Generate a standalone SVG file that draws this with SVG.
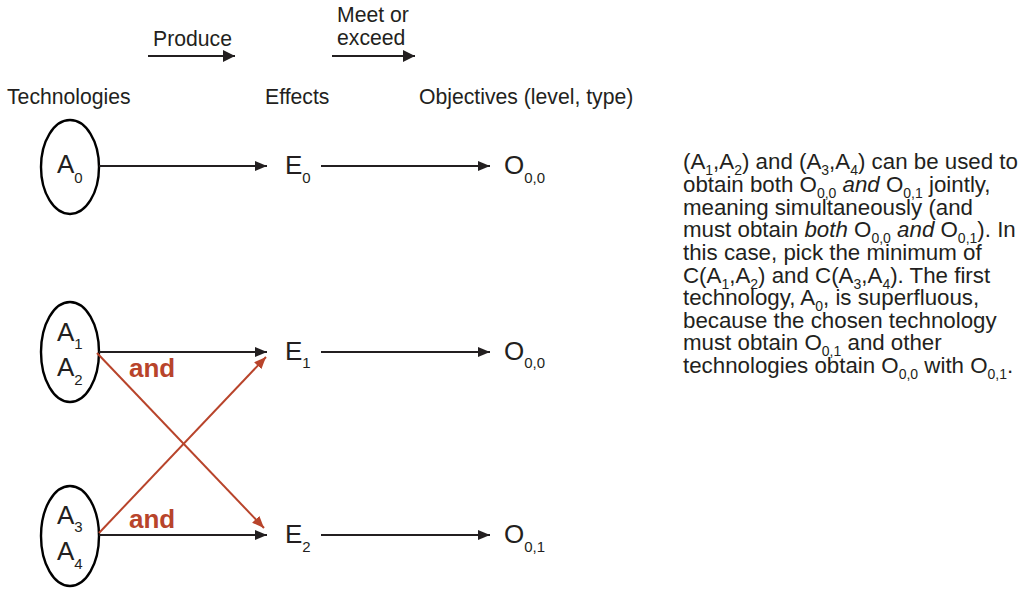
<svg xmlns="http://www.w3.org/2000/svg" width="1033" height="589" viewBox="0 0 1033 589">
  <style>
    text { font-family: "Liberation Sans", Arial, sans-serif; fill: #231f20; }
    .hdr { font-size: 21.2px; }
    .lbl { font-size: 26px; }
    .sub { font-size: 15px; }
    .and { font-size: 26px; font-weight: bold; fill: #b8442b; }
    .note { font-size: 22.3px; }
    .ns { font-size: 14px; }
    .node { fill: none; stroke: #000; stroke-width: 2.4; }
    .edge { stroke: #231f20; stroke-width: 2; fill: none; }
    .red { stroke: #b8442b; stroke-width: 2; fill: none; }
  </style>
  <defs>
    <marker id="ah" markerUnits="userSpaceOnUse" markerWidth="13" markerHeight="11" refX="12" refY="5" orient="auto">
      <path d="M0,0 L12,5 L0,10 z" fill="#231f20"/>
    </marker>
    <marker id="ahr" markerUnits="userSpaceOnUse" markerWidth="13" markerHeight="11" refX="12" refY="5" orient="auto">
      <path d="M0,0 L12,5 L0,10 z" fill="#b8442b"/>
    </marker>
    <marker id="ahh" markerUnits="userSpaceOnUse" markerWidth="13" markerHeight="13" refX="12" refY="6" orient="auto">
      <path d="M0,0 L12,6 L0,12 z" fill="#231f20"/>
    </marker>
  </defs>

  <!-- column headings -->
  <g id="headings">
    <text class="hdr" x="153" y="45.5">Produce</text>
    <text class="hdr" x="337" y="22">Meet or</text>
    <text class="hdr" x="337" y="45">exceed</text>
    <line class="edge" x1="148" y1="56" x2="235" y2="56" marker-end="url(#ahh)"/>
    <line class="edge" x1="332" y1="56" x2="415" y2="56" marker-end="url(#ahh)"/>
    <text class="hdr" x="7" y="104">Technologies</text>
    <text class="hdr" x="265" y="104">Effects</text>
    <text class="hdr" x="419" y="104">Objectives (level, type)</text>
  </g>

  <!-- technologies -->
  <g id="tech-A0">
    <ellipse class="node" cx="70" cy="167" rx="29" ry="47"/>
    <text class="lbl" x="57" y="173">A<tspan class="sub" dy="10">0</tspan></text>
  </g>
  <g id="tech-A1A2">
    <ellipse class="node" cx="70" cy="352" rx="29" ry="50"/>
    <text class="lbl" x="57" y="341">A<tspan class="sub" dy="8">1</tspan></text>
    <text class="lbl" x="57" y="376">A<tspan class="sub" dy="9">2</tspan></text>
  </g>
  <g id="tech-A3A4">
    <ellipse class="node" cx="70" cy="536" rx="29" ry="50"/>
    <text class="lbl" x="57" y="524">A<tspan class="sub" dy="8">3</tspan></text>
    <text class="lbl" x="57" y="560">A<tspan class="sub" dy="9">4</tspan></text>
  </g>

  <!-- effects -->
  <g id="effect-E0"><text class="lbl" x="285" y="174">E<tspan class="sub" dy="9">0</tspan></text></g>
  <g id="effect-E1"><text class="lbl" x="285" y="360">E<tspan class="sub" dy="8">1</tspan></text></g>
  <g id="effect-E2"><text class="lbl" x="285" y="543">E<tspan class="sub" dy="9">2</tspan></text></g>

  <!-- objectives -->
  <g id="objective-O00-a"><text class="lbl" x="504" y="174">O<tspan class="sub" dy="9">0,0</tspan></text></g>
  <g id="objective-O00-b"><text class="lbl" x="504" y="360">O<tspan class="sub" dy="8">0,0</tspan></text></g>
  <g id="objective-O01"><text class="lbl" x="504" y="543">O<tspan class="sub" dy="9">0,1</tspan></text></g>

  <!-- connectors -->
  <g id="connectors">
    <line class="edge" x1="99" y1="166" x2="267" y2="166" marker-end="url(#ah)"/>
    <line class="edge" x1="321" y1="166" x2="490" y2="166" marker-end="url(#ah)"/>
    <line class="edge" x1="99" y1="352" x2="267" y2="352" marker-end="url(#ah)"/>
    <line class="edge" x1="321" y1="352" x2="490" y2="352" marker-end="url(#ah)"/>
    <line class="edge" x1="99" y1="535" x2="267" y2="535" marker-end="url(#ah)"/>
    <line class="edge" x1="321" y1="535" x2="490" y2="535" marker-end="url(#ah)"/>
    <line class="red" x1="97" y1="353" x2="264" y2="528" marker-end="url(#ahr)"/>
    <line class="red" x1="99" y1="533" x2="266" y2="357" marker-end="url(#ahr)"/>
    <text class="and" x="129" y="377">and</text>
    <text class="and" x="129" y="528">and</text>
  </g>

  <!-- explanatory note -->
  <g id="note">
    <text class="note" x="683" y="169">(A<tspan class="ns" dy="6">1</tspan><tspan dy="-6">,A</tspan><tspan class="ns" dy="6">2</tspan><tspan dy="-6">) and (A</tspan><tspan class="ns" dy="6">3</tspan><tspan dy="-6">,A</tspan><tspan class="ns" dy="6">4</tspan><tspan dy="-6">) can be used to</tspan></text>
    <text class="note" x="683" y="192">obtain both O<tspan class="ns" dy="6">0,0</tspan><tspan dy="-6" font-style="italic"> and</tspan> O<tspan class="ns" dy="6">0,1</tspan><tspan dy="-6"> jointly,</tspan></text>
    <text class="note" x="683" y="215">meaning simultaneously (and</text>
    <text class="note" x="683" y="237">must obtain <tspan font-style="italic">both</tspan> O<tspan class="ns" dy="6">0,0</tspan><tspan dy="-6" font-style="italic"> and</tspan> O<tspan class="ns" dy="6">0,1</tspan><tspan dy="-6">). In</tspan></text>
    <text class="note" x="683" y="260">this case, pick the minimum of</text>
    <text class="note" x="683" y="283">C(A<tspan class="ns" dy="6">1</tspan><tspan dy="-6">,A</tspan><tspan class="ns" dy="6">2</tspan><tspan dy="-6">) and C(A</tspan><tspan class="ns" dy="6">3</tspan><tspan dy="-6">,A</tspan><tspan class="ns" dy="6">4</tspan><tspan dy="-6">). The first</tspan></text>
    <text class="note" x="683" y="305">technology, A<tspan class="ns" dy="6">0</tspan><tspan dy="-6">, is superfluous,</tspan></text>
    <text class="note" x="683" y="328">because the chosen technology</text>
    <text class="note" x="683" y="350">must obtain O<tspan class="ns" dy="6">0,1</tspan><tspan dy="-6"> and other</tspan></text>
    <text class="note" x="683" y="373">technologies obtain O<tspan class="ns" dy="6">0,0</tspan><tspan dy="-6"> with O</tspan><tspan class="ns" dy="6">0,1</tspan><tspan dy="-6">.</tspan></text>
  </g>
</svg>
